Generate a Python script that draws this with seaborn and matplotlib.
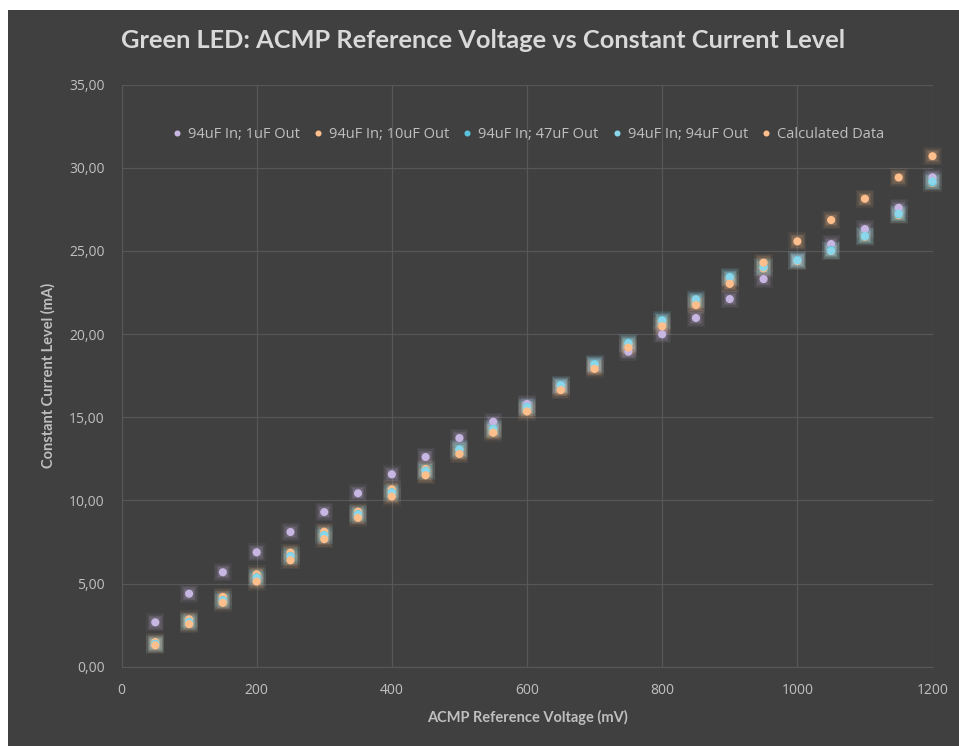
# Green LED: tensao de referencia do ACMP vs corrente constante

import pandas as pd
import matplotlib.pyplot as plt
import seaborn as sns
from matplotlib.patches import Rectangle

# Dados
voltage = [50, 100, 150, 200, 250, 300, 350, 400, 450, 500, 550, 600,
           650, 700, 750, 800, 850, 900, 950, 1000, 1050, 1100, 1150, 1200]
out_1uf = [2.67, 4.39, 5.68, 6.88, 8.10, 9.30, 10.43, 11.57, 12.61, 13.75, 14.73, 15.80,
           16.90, 18.15, 18.94, 19.99, 20.97, 22.11, 23.31, 24.45, 25.42, 26.32, 27.60, 29.43]
out_10uf = [1.48, 2.85, 4.20, 5.56, 6.86, 8.12, 9.32, 10.67, 11.89, 13.05, 14.25, 15.55,
            16.85, 18.10, 19.40, 20.75, 21.95, 23.35, 23.95, 24.40, 25.00, 25.85, 27.15, 29.10]
out_47uf = [1.38, 2.70, 4.00, 5.38, 6.66, 7.92, 9.18, 10.49, 11.79, 13.09, 14.31, 15.63,
            16.94, 18.20, 19.48, 20.85, 22.05, 23.45, 24.06, 24.46, 25.06, 25.88, 27.20, 29.13]
out_94uf = [1.35, 2.68, 3.98, 5.35, 6.64, 7.90, 9.15, 10.47, 11.76, 13.06, 14.29, 15.60,
            16.92, 18.18, 19.45, 20.82, 22.10, 23.42, 24.03, 24.43, 25.00, 25.90, 27.25, 29.20]
calculated = [1.28, 2.56, 3.84, 5.12, 6.40, 7.67, 8.95, 10.23, 11.51, 12.79, 14.07, 15.35,
              16.63, 17.91, 19.19, 20.47, 21.74, 23.02, 24.30, 25.58, 26.86, 28.14, 29.42, 30.70]

series_names = ["94uF In; 1uF Out", "94uF In; 10uF Out", "94uF In; 47uF Out",
                "94uF In; 94uF Out", "Calculated Data"]
series_colors = ["#c8b6e2", "#ffbf8c", "#59c3dc", "#8ad6ea", "#ffbf8c"]
y_ticks = [0, 5, 10, 15, 20, 25, 30, 35]
x_ticks = [0, 200, 400, 600, 800, 1000, 1200]

# Monta o dataframe em formato longo
frames = []
for name, vals in zip(series_names, [out_1uf, out_10uf, out_47uf, out_94uf, calculated]):
    frames.append(pd.DataFrame({"Voltage": voltage, "Current": vals, "Serie": name}))
df = pd.concat(frames, ignore_index=True)
palette = dict(zip(series_names, series_colors))

bg = "#404040"
fig = plt.figure(figsize=(9.59, 7.46), dpi=100, facecolor="white")
fig.patches.append(Rectangle((8 / 959, 0), 1 - 8 / 959, 736 / 746,
                             transform=fig.transFigure, facecolor=bg, edgecolor="none", zorder=-10))
ax = fig.add_axes([121.5 / 959, 1 - 666.7 / 746, 811 / 959, 582 / 746])
ax.set_facecolor(bg)

# Efeito de "glow" do Excel: quadrados transparentes atras dos pontos
for size, alpha in [(170, 0.06), (120, 0.08), (80, 0.11), (50, 0.14)]:
    sns.scatterplot(data=df, x="Voltage", y="Current", hue="Serie", palette=palette,
                    marker="s", s=size, alpha=alpha, linewidth=0, legend=False, ax=ax,
                    zorder=2, clip_on=False)

sns.scatterplot(data=df, x="Voltage", y="Current", hue="Serie", palette=palette,
                s=34, linewidth=0, ax=ax, zorder=3, clip_on=False)

ax.set_xlim(0, 1200)
ax.set_ylim(0, 35)
ax.set_xticks(x_ticks)
ax.set_yticks(y_ticks)
ax.set_yticklabels([f"{v:.2f}".replace(".", ",") for v in y_ticks])
ax.grid(True, color="#575757", linewidth=0.9)
ax.set_axisbelow(True)
for side in ["top", "right"]:
    ax.spines[side].set_visible(False)
for side in ["left", "bottom"]:
    ax.spines[side].set_color("#575757")
ax.tick_params(length=0, colors="#c0c0c0", labelsize=10, pad=12)
for lab in ax.get_xticklabels() + ax.get_yticklabels():
    lab.set_family("Open Sans")

ax.set_xlabel("ACMP Reference Voltage (mV)", color="#bfbfbf", fontsize=10.5,
              fontweight="bold", family="Lato", labelpad=8)
ax.set_ylabel("Constant Current Level (mA)", color="#bfbfbf", fontsize=10.5,
              fontweight="bold", family="Lato", labelpad=10)
fig.text(0.5 + 8 / 959 / 2, 1 - 40 / 746, "Green LED: ACMP Reference Voltage vs Constant Current Level",
         ha="center", va="center", color="#d9d9d9", fontsize=18.3, fontweight="bold", family="Lato")

leg = ax.legend(loc="upper center", bbox_to_anchor=(0.5, 0.95), ncol=5, frameon=False,
                handletextpad=0.25, handlelength=1.0, columnspacing=0.75, markerscale=0.75,
                prop={"family": "Open Sans", "size": 10.5})
for t in leg.get_texts():
    t.set_color("#bfbfbf")

fig.savefig("out.png", dpi=100, facecolor=fig.get_facecolor())
